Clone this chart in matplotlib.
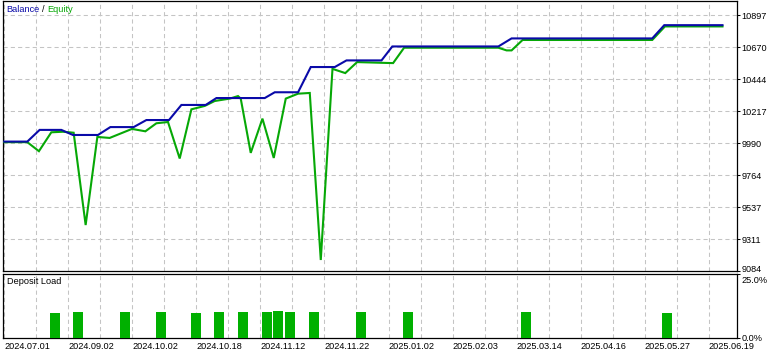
import numpy as np
import matplotlib.pyplot as plt
import matplotlib.transforms as mtransforms
from matplotlib.ticker import MultipleLocator

plt.rcParams['font.family'] = ['Liberation Sans', 'DejaVu Sans']
plt.rcParams['font.size'] = 6.6

# chart position (MT5 tester axis is not linear in time) and values
balance_pos = [0, 23, 35.3, 57, 68.6, 93.6, 106, 129.3, 142, 164.6, 177, 201.3, 212, 260.3,
               270.3, 293.6, 306.3, 330.3, 342, 377, 387.8, 493.8, 507, 647.6, 659.6, 717.8]
balance = [10002, 10002, 10085, 10085, 10049, 10049, 10105, 10105, 10155, 10155, 10262, 10262,
           10311, 10311, 10352, 10352, 10531, 10531, 10578, 10578, 10677, 10677, 10734, 10734,
           10828, 10828]

equity_pos = [0, 23, 34.6, 47, 58.6, 69.3, 81.3, 93, 105.3, 127.6, 141, 152, 163.6, 175.3, 187,
              200.3, 210.3, 225.3, 233.6, 236.3, 246.3, 258, 269.3, 281.3, 293.6, 305.3, 316.3,
              328, 340.8, 352.6, 382, 388.6, 399.6, 493.8, 502, 507, 518, 647.6, 660.3, 717.8]
equity = [9998, 9998, 9934, 10068, 10072, 10065, 9410, 10035, 10028, 10092, 10075, 10132, 10141,
          9882, 10231, 10255, 10290, 10307, 10325, 10307, 9922, 10165, 9886, 10307, 10342, 10347,
          9162, 10518, 10488, 10566, 10560, 10559, 10668, 10668, 10649, 10649, 10723, 10723,
          10819, 10819]

load_pos = [50.3, 73.3, 120.3, 156.3, 191.3, 214.3, 238.3, 262.3, 273.3, 285.3, 309.3, 356.3,
            403.3, 521.3, 662.3]
load = [9.6, 9.9, 9.9, 9.9, 9.6, 9.9, 9.9, 9.9, 10.4, 9.9, 9.9, 9.9, 9.9, 9.9, 9.6]

date_labels = ['2024.07.01', '2024.09.02', '2024.10.02', '2024.10.18', '2024.11.12', '2024.11.22',
               '2025.01.02', '2025.02.03', '2025.03.14', '2025.04.16', '2025.05.27', '2025.06.19']
y_ticks = [9084, 9311, 9537, 9764, 9990, 10217, 10444, 10670, 10897]

W, H = 780, 357
fig = plt.figure(figsize=(W / 100, H / 100), dpi=100)
fig.patch.set_facecolor('white')

def box(l, t, r, b):
    return [l / W, 1 - b / H, (r - l) / W, (b - t) / H]

ax = fig.add_axes(box(3.5, 0.5, 737, 271))
ax2 = fig.add_axes(box(3.5, 273.5, 737, 337.7), sharex=ax)

blue = '#0a0aa8'
green = '#06a806'

ax.plot(equity_pos, equity, color=green, lw=1.5, solid_joinstyle='miter', zorder=3)
ax.plot(balance_pos, balance, color=blue, lw=1.5, solid_joinstyle='miter', zorder=4)
ax2.bar(load_pos, load, width=10, color='#00b000', zorder=3)

ax.set_xlim(-0.8, 732.3)
ax.set_ylim(9084, 11003)
ax2.set_ylim(0, 25)

for a in (ax, ax2):
    a.xaxis.set_major_locator(MultipleLocator(64))
    a.xaxis.set_minor_locator(MultipleLocator(32))
    a.grid(True, which='both', axis='x', color='#c4c4c4', lw=0.75, ls=(0, (4, 3)))
    for s in a.spines.values():
        s.set_color('black')
        s.set_linewidth(0.9)
    a.yaxis.tick_right()
    a.tick_params(axis='y', length=2, width=0.75, pad=1, labelsize=6.6)
    a.tick_params(axis='x', which='both', length=0)

ax.grid(True, axis='y', color='#c4c4c4', lw=0.75, ls=(0, (4, 3)))
ax.set_yticks(y_ticks)
ax.set_yticklabels([str(v) for v in y_ticks])
ax.tick_params(axis='x', labelbottom=False)

ax2.set_xticks([64 * i for i in range(len(date_labels))])
ax2.set_xticklabels(date_labels, ha='left')
ax2.tick_params(axis='x', pad=3, labelsize=6.6)
ax2.set_yticks([0, 25])
ax2.set_yticklabels(['0.0%', '25.0%'])

# nudge the two crowded labels apart (as in the terminal)
up = mtransforms.ScaledTranslation(0, 2 / 100, fig.dpi_scale_trans)
down = mtransforms.ScaledTranslation(0, -2.5 / 100, fig.dpi_scale_trans)
lab = ax.get_yticklabels()[0]
lab.set_transform(lab.get_transform() + up)
lab = ax2.get_yticklabels()[1]
lab.set_va('top')
lab.set_transform(lab.get_transform() + down)

fig.text(6.7 / W, 1 - 9 / H, 'Balance', color=blue, va='center', ha='left', fontsize=6.6)
fig.text(41.5 / W, 1 - 9 / H, '/', color='black', va='center', ha='left', fontsize=6.6)
fig.text(47.7 / W, 1 - 9 / H, 'Equity', color=green, va='center', ha='left', fontsize=6.6)
fig.text(6.7 / W, 1 - 281.5 / H, 'Deposit Load', color='black', va='center', ha='left', fontsize=6.6)

fig.savefig('out.png', dpi=100)
